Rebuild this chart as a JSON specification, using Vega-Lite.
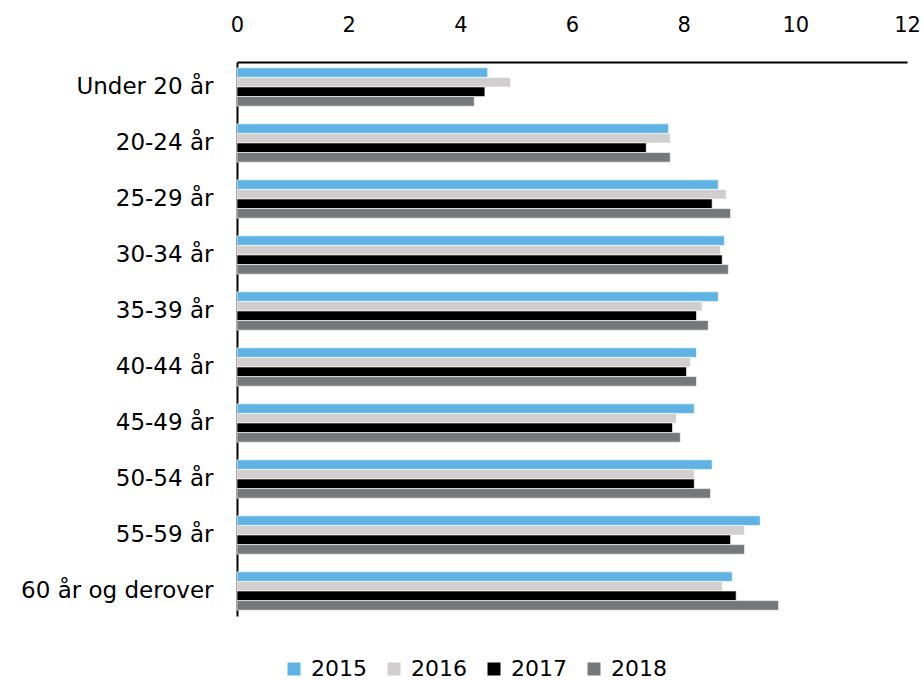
{
  "$schema": "https://vega.github.io/schema/vega-lite/v6.json",
  "autosize": {"type": "none"},
  "width": 670,
  "height": 554,
  "padding": {"left": 237, "top": 62, "right": 16, "bottom": 66},
  "background": "white",
  "config": {"font": "DejaVu Sans", "view": {"stroke": null}},
  "data": {"values": [
    {"age": "Under 20 år", "year": "2015", "value": 4.49},
    {"age": "Under 20 år", "year": "2016", "value": 4.90},
    {"age": "Under 20 år", "year": "2017", "value": 4.44},
    {"age": "Under 20 år", "year": "2018", "value": 4.25},
    {"age": "20-24 år", "year": "2015", "value": 7.73},
    {"age": "20-24 år", "year": "2016", "value": 7.76},
    {"age": "20-24 år", "year": "2017", "value": 7.33},
    {"age": "20-24 år", "year": "2018", "value": 7.76},
    {"age": "25-29 år", "year": "2015", "value": 8.62},
    {"age": "25-29 år", "year": "2016", "value": 8.76},
    {"age": "25-29 år", "year": "2017", "value": 8.51},
    {"age": "25-29 år", "year": "2018", "value": 8.84},
    {"age": "30-34 år", "year": "2015", "value": 8.73},
    {"age": "30-34 år", "year": "2016", "value": 8.66},
    {"age": "30-34 år", "year": "2017", "value": 8.69},
    {"age": "30-34 år", "year": "2018", "value": 8.80},
    {"age": "35-39 år", "year": "2015", "value": 8.62},
    {"age": "35-39 år", "year": "2016", "value": 8.33},
    {"age": "35-39 år", "year": "2017", "value": 8.23},
    {"age": "35-39 år", "year": "2018", "value": 8.44},
    {"age": "40-44 år", "year": "2015", "value": 8.23},
    {"age": "40-44 år", "year": "2016", "value": 8.12},
    {"age": "40-44 år", "year": "2017", "value": 8.05},
    {"age": "40-44 år", "year": "2018", "value": 8.23},
    {"age": "45-49 år", "year": "2015", "value": 8.19},
    {"age": "45-49 år", "year": "2016", "value": 7.87},
    {"age": "45-49 år", "year": "2017", "value": 7.80},
    {"age": "45-49 år", "year": "2018", "value": 7.94},
    {"age": "50-54 år", "year": "2015", "value": 8.51},
    {"age": "50-54 år", "year": "2016", "value": 8.19},
    {"age": "50-54 år", "year": "2017", "value": 8.19},
    {"age": "50-54 år", "year": "2018", "value": 8.48},
    {"age": "55-59 år", "year": "2015", "value": 9.37},
    {"age": "55-59 år", "year": "2016", "value": 9.09},
    {"age": "55-59 år", "year": "2017", "value": 8.84},
    {"age": "55-59 år", "year": "2018", "value": 9.09},
    {"age": "60 år og derover", "year": "2015", "value": 8.87},
    {"age": "60 år og derover", "year": "2016", "value": 8.69},
    {"age": "60 år og derover", "year": "2017", "value": 8.94},
    {"age": "60 år og derover", "year": "2018", "value": 9.70}
  ]},
  "mark": {"type": "bar", "stroke": "white", "strokeWidth": 0.6},
  "encoding": {
    "y": {
      "field": "age", "type": "nominal", "sort": null,
      "scale": {"paddingInner": 0.316, "paddingOuter": 0.104},
      "axis": {"title": null, "ticks": false, "domainColor": "black", "domainWidth": 2,
               "labelFontSize": 23, "labelColor": "black", "labelPadding": 24, "labelLimit": 400}
    },
    "yOffset": {"field": "year", "type": "nominal", "sort": null},
    "x": {
      "field": "value", "type": "quantitative",
      "scale": {"domain": [0, 12], "nice": false},
      "axis": {"orient": "top", "title": null, "grid": false, "ticks": false,
               "values": [0, 2, 4, 6, 8, 10, 12], "labelOverlap": false,
               "domainColor": "black", "domainWidth": 2,
               "labelFontSize": 21, "labelColor": "black", "labelPadding": 27,
               "labelFlush": false}
    },
    "color": {
      "field": "year", "type": "nominal",
      "scale": {"domain": ["2015", "2016", "2017", "2018"], "range": ["#5FB3E4", "#D0CECF", "#000000", "#75787B"]},
      "legend": {"title": null, "orient": "none", "direction": "horizontal", "legendX": 46, "legendY": 596,
                 "symbolType": "square", "symbolSize": 169, "symbolStrokeWidth": 0,
                 "labelFontSize": 22, "labelColor": "black", "columnPadding": 16, "labelOffset": 6}
    }
  }
}
